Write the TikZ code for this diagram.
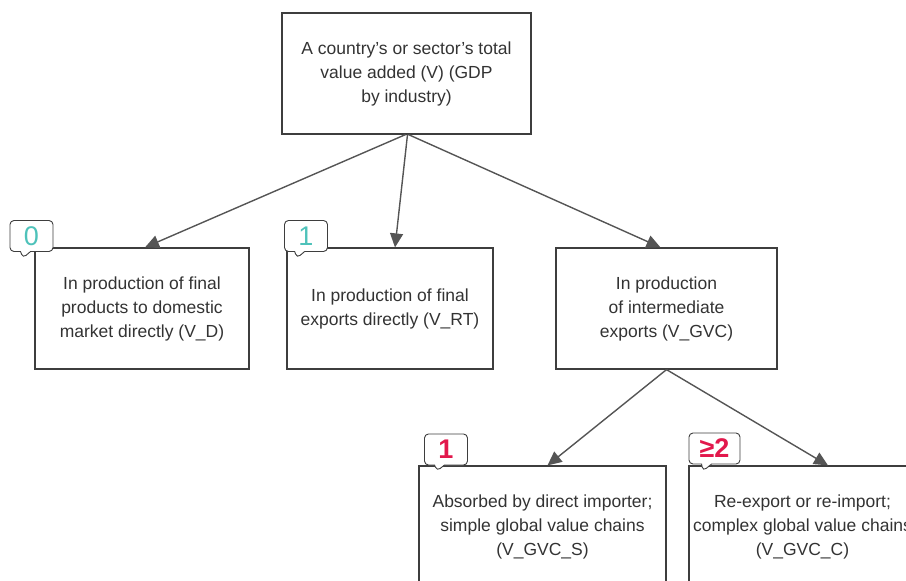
\documentclass[tikz,border=0pt]{standalone}
\usepackage{fontspec}
\setmainfont{Liberation Sans}
\usepackage{xcolor}
\usetikzlibrary{arrows.meta,shapes.callouts}
\definecolor{linegray}{HTML}{3E3E3E}
\definecolor{arrowgray}{HTML}{555555}
\definecolor{textgray}{HTML}{333333}
\definecolor{tealnum}{HTML}{4EC2BA}
\definecolor{rednum}{HTML}{E2184C}

\begin{document}
\begin{tikzpicture}[
  x=1pt, y=-1pt,
  box/.style={draw=linegray, line width=1.2pt, align=center, text=textgray,
              font=\fontsize{17.5}{24}\selectfont, inner sep=0pt},
  badge/.style={rectangle callout, draw=linegray, fill=white, rounded corners=4pt,
              line width=0.9pt, minimum width=43pt, minimum height=31pt,
              inner sep=0pt, callout pointer width=10pt,
              font=\fontsize{27}{27}\selectfont},
  arr/.style={-{Triangle[length=14pt,width=13pt]}, draw=arrowgray, line width=1.4pt}
]
\useasboundingbox (0,0) rectangle (906,581);
\clip (0,0) rectangle (906,581);

% boxes
\node[box, minimum width=249pt, minimum height=121pt] (total) at (406.5,73.5)
  {A country’s or sector’s total\\value added (V) (GDP\\by industry)};
\node[box, minimum width=214pt, minimum height=121pt] (dom) at (142,308.5)
  {In production of final\\products to domestic\\market directly (V\_D)};
\node[box, minimum width=206pt, minimum height=121pt] (rt) at (390,308.5)
  {In production of final\\exports directly (V\_RT)};
\node[box, minimum width=221pt, minimum height=121pt] (gvc) at (666.5,308.5)
  {In production\\of intermediate\\exports (V\_GVC)};
\node[box, minimum width=247pt, minimum height=121pt] (simple) at (542.5,526.5)
  {Absorbed by direct importer;\\simple global value chains\\(V\_GVC\_S)};
\node[box, minimum width=227pt, minimum height=121pt] (complex) at (802.5,526.5)
  {Re-export or re-import;\\complex global value chains\\(V\_GVC\_C)};

% badges
\node[badge, callout absolute pointer={(23,258)}] (b0) at (31.5,236)
  {\textcolor{tealnum}{0}};
\node[badge, callout absolute pointer={(297,258)}] (b1) at (306,236)
  {\textcolor{tealnum}{1}};
\node[badge, callout absolute pointer={(437,471)}] (b2) at (446,449.5)
  {\textcolor{rednum}{\bfseries 1}};
\node[badge, minimum width=51pt, callout absolute pointer={(703,471)}] (b3) at (714.5,448.5)
  {\textcolor{rednum}{\bfseries ≥2}};

% arrows
\draw[arr] ([xshift=-1pt]total.south) -- ([xshift=3pt]dom.north);
\draw[arr] ([xshift=1pt]total.south) -- ([xshift=5pt]rt.north);
\draw[arr] ([xshift=2pt]total.south) -- ([xshift=-6pt]gvc.north);
\draw[arr] (gvc.south) -- ([xshift=5pt]simple.north);
\draw[arr] (gvc.south) -- ([xshift=25.5pt]complex.north);
\end{tikzpicture}
\end{document}
